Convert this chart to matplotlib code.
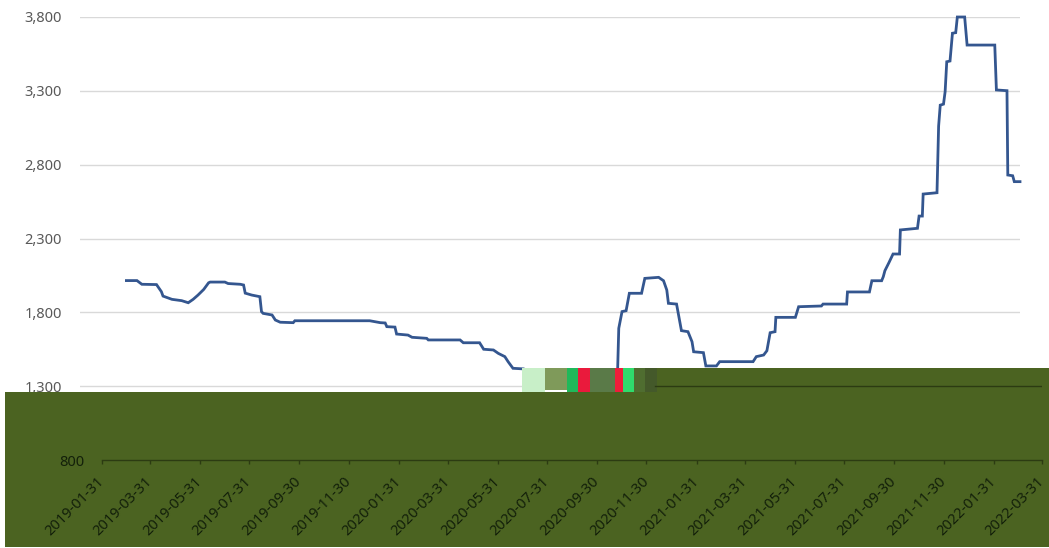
import matplotlib
matplotlib.use('Agg')
import matplotlib.pyplot as plt
import pandas as pd
from matplotlib.patches import Rectangle
from matplotlib.ticker import FuncFormatter

# ---------------- data ----------------
dates = [
    '2019-03-29', '2019-04-11', '2019-04-17', '2019-05-05', '2019-05-11', '2019-05-13',
    '2019-05-24', '2019-06-05', '2019-06-13', '2019-06-19', '2019-06-25', '2019-07-02',
    '2019-07-08', '2019-07-10', '2019-07-28', '2019-08-01', '2019-08-16', '2019-08-20',
    '2019-08-22', '2019-08-30', '2019-09-09', '2019-09-11', '2019-09-13', '2019-09-24',
    '2019-09-28', '2019-10-04', '2019-10-20', '2019-10-22', '2020-01-22', '2020-02-04',
    '2020-02-10', '2020-02-12', '2020-02-22', '2020-02-24', '2020-03-09', '2020-03-14',
    '2020-04-01', '2020-04-03', '2020-05-12', '2020-05-16', '2020-06-05', '2020-06-10',
    '2020-06-22', '2020-06-28', '2020-07-06', '2020-07-10', '2020-07-16', '2020-07-29',
    '2020-08-02', '2020-08-08', '2020-08-12', '2020-08-24', '2020-11-21', '2020-11-23',
    '2020-11-27', '2020-12-02', '2020-12-06', '2020-12-21', '2020-12-25', '2021-01-11',
    '2021-01-17', '2021-01-21', '2021-01-23', '2021-02-02', '2021-02-05', '2021-02-08',
    '2021-02-16', '2021-02-21', '2021-02-23', '2021-03-07', '2021-03-10', '2021-03-23',
    '2021-03-27', '2021-05-07', '2021-05-11', '2021-05-20', '2021-05-24', '2021-05-28',
    '2021-06-03', '2021-06-04', '2021-06-28', '2021-07-02', '2021-07-30', '2021-08-01',
    '2021-08-30', '2021-08-31', '2021-09-27', '2021-09-30', '2021-10-12', '2021-10-14',
    '2021-10-16', '2021-10-21', '2021-10-26', '2021-11-03', '2021-11-04', '2021-11-25',
    '2021-11-27', '2021-12-01', '2021-12-02', '2021-12-19', '2021-12-21', '2021-12-23',
    '2021-12-27', '2021-12-29', '2021-12-31', '2022-01-04', '2022-01-07', '2022-01-11',
    '2022-01-13', '2022-01-22', '2022-01-25', '2022-02-28', '2022-03-02', '2022-03-15',
    '2022-03-16', '2022-03-22', '2022-03-24', '2022-03-31',
]
prices = [
    2015, 2015, 1990, 1988, 1940, 1910,
    1888, 1879, 1865, 1888, 1917, 1955,
    2000, 2005, 2005, 1995, 1990, 1985,
    1930, 1917, 1906, 1805, 1793, 1782,
    1748, 1733, 1730, 1743, 1743, 1730,
    1728, 1703, 1700, 1653, 1646, 1631,
    1624, 1613, 1613, 1594, 1594, 1550,
    1545, 1522, 1500, 1466, 1421, 1417,
    1376, 1360, 1347, 1295, 1290, 1692,
    1805, 1811, 1929, 1929, 2030, 2037,
    2014, 1951, 1861, 1856, 1766, 1676,
    1669, 1601, 1533, 1527, 1437, 1437,
    1466, 1466, 1500, 1511, 1540, 1662,
    1669, 1766, 1766, 1838, 1843, 1856,
    1856, 1938, 1938, 2014, 2014, 2041,
    2082, 2137, 2195, 2195, 2358, 2369,
    2452, 2452, 2601, 2610, 3061, 3203,
    3210, 3294, 3497, 3502, 3690, 3694,
    3800, 3800, 3610, 3610, 3306, 3301,
    2730, 2725, 2685, 2685,
]
tick_dates = [
    '2019-01-31', '2019-03-31', '2019-05-31', '2019-07-31', '2019-09-30',
    '2019-11-30', '2020-01-31', '2020-03-31', '2020-05-31', '2020-07-31',
    '2020-09-30', '2020-11-30', '2021-01-31', '2021-03-31', '2021-05-31',
    '2021-07-31', '2021-09-30', '2021-11-30', '2022-01-31', '2022-03-31',
]
y_ticks = [800, 1300, 1800, 2300, 2800, 3300, 3800]

# ---------------- style ----------------
plt.rcParams['font.family'] = ['Noto Sans', 'DejaVu Sans']
LINE = '#34568f'
GRID = '#d9d9d9'
GREY = '#595959'
GREEN = '#4b6321'
DARK = '#13200a'
DARKLINE = '#2c3b12'

W, H = 1049, 548
fig = plt.figure(figsize=(W / 100, H / 100), dpi=100)
fig.patch.set_facecolor('white')


def box(l, r, t, b):
    return [l / W, 1 - b / H, (r - l) / W, (b - t) / H]


def rect(l, r, t, b, color, z=1):
    fig.add_artist(Rectangle((l / W, 1 - b / H), (r - l) / W, (b - t) / H,
                             transform=fig.transFigure, facecolor=color,
                             edgecolor='none', zorder=z))


x = pd.to_datetime(dates)
xt = pd.to_datetime(tick_dates)
xmin, xmax = pd.Timestamp('2019-01-31'), pd.Timestamp('2022-03-31')

# main plotting area (the 800 level sits in the green band, drawn by ax2)
ax = fig.add_axes(box(80, 1020, 17, 460))
ax.set_zorder(0)
ax.plot(x, prices, color=LINE, lw=2.0, clip_on=False, solid_joinstyle='miter')
ax.set_xlim(xmin, xmax)
ax.set_ylim(y_ticks[0], y_ticks[-1])
ax.set_yticks(y_ticks[1:])
ax.yaxis.set_major_formatter(FuncFormatter(lambda v, p: f'{v:,.0f}'))
ax.tick_params(axis='y', length=0, pad=13, labelsize=10.5, labelcolor=GREY)
ax.set_xticks([])
ax.grid(axis='y', color=GRID, lw=1)
ax.set_axisbelow(True)
for s in ax.spines.values():
    s.set_visible(False)

# green (corrupted) band
rect(5, 1049, 392, 547, GREEN)
rect(635, 1049, 368, 392, GREEN)
rect(522, 545, 368, 392, '#c8efc8')
rect(545, 567, 368, 390, '#7f9a5a')
rect(567, 578, 368, 392, '#20b95a')
rect(578, 590, 368, 392, '#ea1a3c')
rect(590, 615, 368, 392, '#5a7a48')
rect(615, 623, 368, 392, '#ee1d3a')
rect(623, 634, 368, 392, '#2fdc6c')
rect(634, 645, 368, 392, '#4f6d30')
rect(645, 657, 368, 392, '#44592a')

# shifted axis drawn in the green band
ax2 = fig.add_axes(box(102, 1042, 17, 460))
ax2.set_zorder(2)
ax2.patch.set_alpha(0)
ax2.set_xlim(xmin, xmax)
ax2.set_ylim(y_ticks[0], y_ticks[-1])
ax2.set_xticks(xt)
ax2.set_xticklabels(tick_dates, rotation=45, ha='right', va='center',
                    rotation_mode='anchor', color=DARK, fontsize=10.5)
ax2.set_yticks(y_ticks[:1])
ax2.yaxis.set_major_formatter(FuncFormatter(lambda v, p: f'{v:,.0f}'))
ax2.tick_params(axis='y', length=0, pad=13, labelsize=10.5, labelcolor=DARK)
ax2.tick_params(axis='x', length=3, width=1, color=DARKLINE, pad=11)
for k, s in ax2.spines.items():
    s.set_visible(k == 'bottom')
ax2.spines['bottom'].set_color(DARKLINE)
ax2.spines['bottom'].set_linewidth(1)
ax2.axhline(y_ticks[1], xmin=(655 - 102) / 940, xmax=1, color=DARKLINE, lw=1)

fig.savefig('out.png', dpi=100, facecolor='white')
